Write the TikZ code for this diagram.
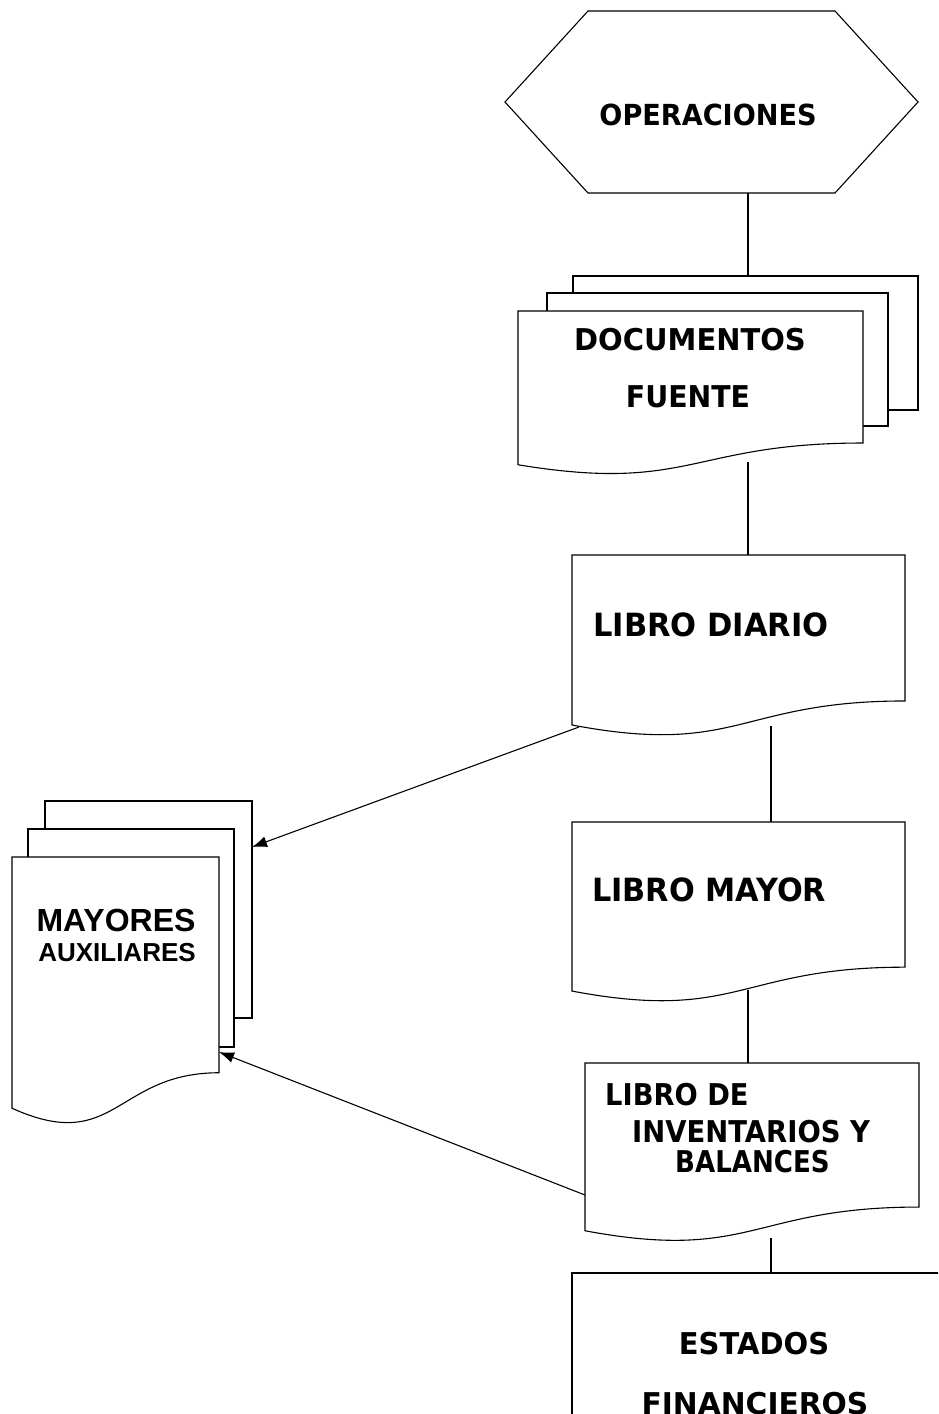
\documentclass[tikz,border=0pt]{standalone}
\usepackage{graphicx}
\usepackage{fontspec}
\setmainfont{DejaVu Sans}
\newfontfamily\arialb{Liberation Sans}[BoldFont={* Bold}]
\usetikzlibrary{arrows.meta}
\newcommand\docpath[4]{% L, T, W, H
  (#1,#2) -- ({#1+#3},#2) -- ({#1+#3},{#2+0.802*#4})
  .. controls ({#1+0.5*#3},{#2+0.802*#4}) and ({#1+0.5*#3},{#2+1.1075*#4}) .. (#1,{#2+0.934*#4}) -- cycle}
\newcommand\sx[2]{\scalebox{#1}[1]{#2}}
\tikzset{
  shapeline/.style={draw=black, line width=1.1pt, fill=white, line join=miter},
  conn/.style={draw=black, line width=1.1pt},
  arr/.style={conn, -{Latex[length=15pt,width=11pt]}},
  tlabel/.style={font=\bfseries\fontsize{30}{34}\selectfont, inner sep=0pt, text=black},
  biglabel/.style={font=\bfseries\fontsize{32}{36}\selectfont, inner sep=0pt, text=black},
  alabel/.style={font=\arialb\bfseries\fontsize{29}{34}\selectfont, inner sep=0pt, text=black},
}
\begin{document}
\begin{tikzpicture}[x=1pt,y=-1pt]
\useasboundingbox (0,0) rectangle (938,1414);
\clip (0,0) rectangle (938,1414);
% hexagon
\draw[shapeline] (505,102) -- (588,11) -- (835,11) -- (918,102) -- (835,193) -- (588,193) -- cycle;
\node[tlabel, font=\bfseries\fontsize{29}{34}\selectfont] (ops) at (708,115) {\sx{0.935}{OPERACIONES}};
\coordinate (opsB) at (748,193);
% documentos fuente
\draw[shapeline] (573,276) rectangle (918,410);
\draw[shapeline] (547,293) rectangle (888,426);
\draw[shapeline] \docpath{518}{311}{345}{164.6};
\coordinate (docsT) at (748,276);
\coordinate (docsB) at (748,462);
\node[tlabel] (docs1) at (690,340) {\sx{0.966}{DOCUMENTOS}};
\node[tlabel] (docs2) at (688,397) {\sx{0.945}{FUENTE}};
% libro diario
\draw[shapeline] \docpath{572}{555}{333}{182};
\coordinate (diarioT) at (748,555);
\coordinate (diarioB) at (771,726);
\coordinate (diarioL) at (579,727);
\node[biglabel, anchor=west] (diario) at (593,625) {\sx{0.955}{LIBRO DIARIO}};
% libro mayor
\draw[shapeline] \docpath{572}{822}{333}{181};
\coordinate (mayorT) at (771,822);
\coordinate (mayorB) at (748,990);
\node[biglabel, anchor=west] (mayor) at (592,890) {\sx{0.947}{LIBRO MAYOR}};
% inventarios y balances
\draw[shapeline] \docpath{585}{1063}{334}{179.6};
\coordinate (invT) at (748,1063);
\coordinate (invB) at (771,1238);
\coordinate (invL) at (585,1195);
\node[tlabel, anchor=west] (inv1) at (605,1095) {\sx{0.91}{LIBRO DE}};
\node[tlabel, anchor=west] (inv2) at (632,1132) {\sx{0.915}{INVENTARIOS Y}};
\node[tlabel, anchor=west] (inv3) at (675,1162) {\sx{0.87}{BALANCES}};
% estados financieros
\draw[shapeline] (572,1273) rectangle (980,1460);
\coordinate (estT) at (771,1273);
\node[tlabel] (est1) at (754,1344) {\sx{0.967}{ESTADOS}};
\node[tlabel] (est2) at (755,1404) {\sx{0.99}{FINANCIEROS}};
% mayores auxiliares
\draw[shapeline] (45,801) rectangle (252,1018);
\draw[shapeline] (28,829) rectangle (234,1047);
\draw[shapeline] \docpath{12}{857}{207}{269};
\coordinate (auxA) at (252,847);
\coordinate (auxB) at (219,1052);
\node[alabel, font=\arialb\bfseries\fontsize{32}{36}\selectfont] (aux1) at (116,920) {MAYORES};
\node[alabel, font=\arialb\bfseries\fontsize{26}{30}\selectfont] (aux2) at (117,953) {AUXILIARES};
% connectors
\draw[conn] (opsB) -- (docsT);
\draw[conn] (docsB) -- (diarioT);
\draw[conn] (diarioB) -- (mayorT);
\draw[conn] (mayorB) -- (invT);
\draw[conn] (invB) -- (estT);
\draw[arr] (diarioL) -- (auxA);
\draw[arr] (invL) -- (auxB);
\end{tikzpicture}
\end{document}
